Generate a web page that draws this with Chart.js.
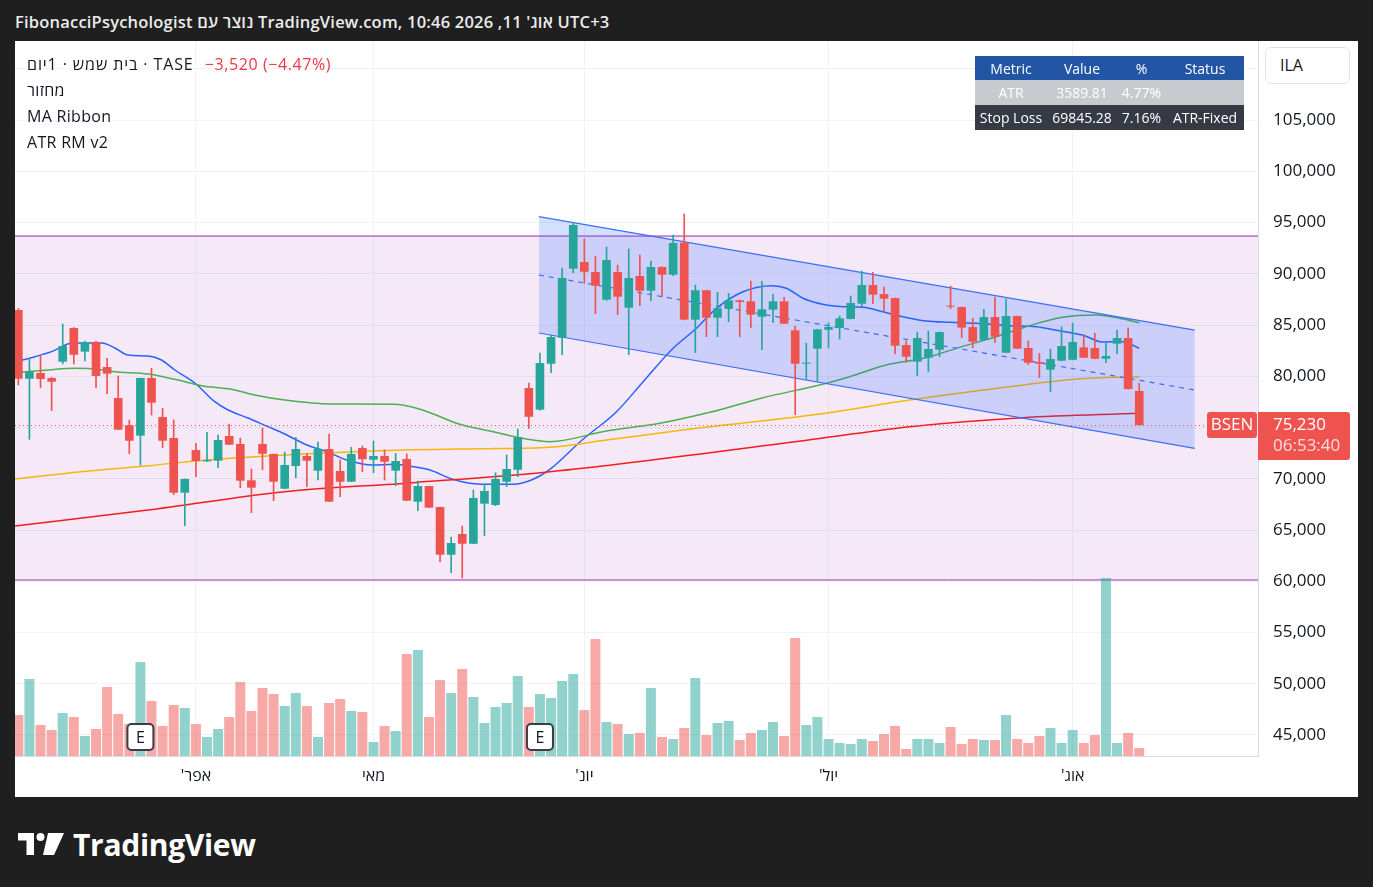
<!DOCTYPE html>
<html lang="he">
<head>
<meta charset="utf-8">
<title>BSEN · TASE</title>
<script src="https://cdn.jsdelivr.net/npm/chart.js@4.4.1/dist/chart.umd.min.js"></script>
<style>
  html, body { margin:0; padding:0; width:1373px; height:887px; overflow:hidden; background:#1f1f1f; font-family:'Open Sans', sans-serif; }
  .title { position:absolute; left:15px; top:10px; color:#ececec; font-size:16.5px; letter-spacing:0.2px; font-weight:600; white-space:nowrap; }
  .panel { position:absolute; left:15px; top:41px; width:1343px; height:756px; background:#fff; }
  #wrap { position:absolute; left:0; top:0; width:1343px; height:756px; }
  .legend { position:absolute; left:12px; top:10px; font-size:16px; line-height:26px; letter-spacing:0.3px; color:#131722; white-space:nowrap; }
  .legend .sym { letter-spacing:0.9px; }
  .legend .chg { color:#f23645; margin-left:11px; letter-spacing:0.6px; }
  table.stats { position:absolute; left:960px; top:15px; border-collapse:collapse; font-size:14px; color:#fff; }
  table.stats td { padding:0; height:25px; text-align:center; white-space:nowrap; }
  table.stats tr.h td { background:#2256a5; height:24px; }
  table.stats tr.a td { background:#c9cacf; }
  table.stats tr.s td { background:#363a45; }
  .cur { position:absolute; left:1250px; top:6px; width:85px; height:37px; box-sizing:border-box; border:1px solid #e0e3eb; border-radius:6px; font-size:16px; line-height:35px; padding-left:14px; color:#131722; background:#fff; }
  .brand { position:absolute; left:18px; top:824px; display:flex; align-items:center; color:#fff; }
  .brand span { font-size:30px; font-weight:700; margin-left:9px; letter-spacing:-0.3px; }
</style>
</head>
<body>
<div class="title">FibonacciPsychologist נוצר עם TradingView.com, אוג' 11, 2026 10:46 UTC+3</div>
<div class="panel">
  <div id="wrap"><canvas id="myChart"></canvas></div>
  <div class="legend">
    <div><span class="sym">בית שמש · 1יום · TASE</span><span class="chg">−3,520 (−4.47%)</span></div>
    <div>מחזור</div>
    <div>MA Ribbon</div>
    <div>ATR RM v2</div>
  </div>
  <table class="stats" id="stats"></table>
  <div class="cur">ILA</div>
</div>
<div class="brand">
  <svg width="46" height="24" viewBox="0 0 46 24">
    <path d="M0 0 H16 V22 H8.5 V7.5 H0 Z" fill="#fff"/>
    <circle cx="22.5" cy="4" r="4" fill="#fff"/>
    <path d="M30 0 H46 L36 22 H25 Z" fill="#fff"/>
  </svg>
  <span>TradingView</span>
</div>

<script>
// daily candles, oldest first (TASE: BSEN)
const openP  = [86460,79760,80320,79830,81420,84710,82400,83340,80900,77880,75220,74200,79830,76020,73980,68640,72800,71700,71760,74170,
                73390,69850,73390,72420,69030,71240,72220,70790,72900,70760,69710,73000,71860,72220,70790,71930,67760,69290,67240,62590,
                64610,63660,67570,67440,69710,70880,78850,76740,81220,83760,90490,91150,90170,87470,90170,86690,89780,88350,90660,89910,
                93030,85520,88390,85710,86590,87410,87310,85810,86490,87310,84480,81230,82690,84540,84710,85590,87080,88900,88020,87630,
                83050,81420,81810,82590,86880,86760,84800,83540,85780,82300,85880,82760,81390,80640,81520,81610,82820,82760,81710,83180,
                83730,78560];
const highP  = [86600,81750,81980,79900,85100,84750,83440,83400,81750,80030,75730,79830,80780,76870,75730,69980,73460,74530,74270,75340,
                73980,70950,74950,72420,72610,74040,72480,73590,74370,71830,73070,73200,73680,72810,72480,72420,69780,69290,67240,64320,
                65390,68900,69460,70590,72320,74850,79340,82270,84020,90560,95020,93390,91730,92610,90850,92420,91830,91240,90700,93780,
                95830,88900,88400,88190,88090,87450,89290,89260,88000,87700,84870,83240,84600,85200,85880,87830,90270,90140,88710,87630,
                83440,84320,84420,84320,88800,86760,85650,86530,87730,87540,85880,83440,82240,82660,84800,85200,84020,84220,83240,84510,
                84710,79310];
const lowP   = [79150,73850,78880,76640,81200,81200,81490,78880,78300,74780,72440,71340,76220,73030,68440,65420,70200,71660,71080,73320,
                69130,66690,70880,67860,69000,70100,69230,69880,67760,68250,69700,70690,70590,69880,69320,67860,66880,67180,61880,60830,
                60320,63660,64440,67370,69230,70200,74920,76700,80350,82100,90100,89070,86100,87400,86010,82100,86880,87370,87760,89810,
                85500,82300,83860,83860,85320,83860,84740,82590,85230,85130,76250,79700,79470,82760,83630,85590,86850,87080,86400,82170,
                81360,80050,80440,81910,86590,83760,82790,83540,83270,82300,82690,81130,79860,78490,81500,81600,81810,81700,81320,82200,
                78750,75230];
const closeP = [79760,80420,79730,79470,82950,82100,83310,80030,80250,74790,73710,79830,77420,73710,68640,69980,71730,71830,73780,73320,
                69810,69130,72440,69710,71340,72900,71760,72900,67760,69710,72420,71900,72220,71660,71730,67860,69290,67180,62590,63730,
                63660,68120,68810,69980,70950,74040,76050,81290,83830,89590,94760,90200,88830,91340,87760,89590,88350,90660,89910,93000,
                85520,88390,85710,86630,87410,87240,86010,86530,87310,85130,81220,81300,84580,84810,85650,87150,88900,87960,87570,82980,
                81910,83730,82660,84320,86790,84740,83370,85780,83860,85880,82690,81320,81220,81680,82950,83340,81810,81710,81980,83730,
                78750,75230];
// volume (thousands of shares)
const volume = [41,77,31,26,43,39,20,27,69,42,32,94,55,30,51,48,32,19,27,39,
                74,45,68,62,50,63,50,19,53,57,45,44,14,30,25,102,106,39,76,63,
                87,59,33,49,53,80,49,62,58,75,82,46,117,34,32,22,23,68,19,17,
                28,78,21,33,35,16,23,26,34,20,118,31,39,17,13,12,17,15,22,30,
                7,17,17,13,29,12,17,16,16,41,17,13,20,28,13,26,13,21,178,13,
                23,8];

// MA Ribbon, read as [bar index, price]
const maFast = [[-0.3,81390],[1.5,81910],[3.0,82400],[4.9,83240],[7.5,83240],[8.7,82760],[9.9,82070],[11.7,81980],[12.9,81590],
                [14.1,80610],[15.9,79340],[17.7,77520],[18.9,76710],[20.7,75930],[22.5,75080],[24.0,74370],[26.0,73290],[27.8,72640],
                [29.6,71830],[31.9,71340],[33.8,71410],[35.6,71180],[37.1,70850],[38.9,70040],[40.4,69620],[42.5,69460],[44.6,69460],
                [46.4,69950],[47.9,70920],[50.8,73780],[53.9,76540],[56.3,79470],[59.0,82730],[61.1,84680],[62.9,86630],[65.3,88250],
                [67.9,88830],[69.2,88580],[70.7,87610],[71.3,87370],[72.8,86950],[74.3,86790],[76.1,86730],[77.9,86300],[79.7,85810],
                [81.8,85390],[83.9,85260],[86.3,85170],[89.3,84930],[91.7,84830],[93.8,84440],[95.9,84020],[97.7,83340],[99.5,83370],[101,82730]];
const maMid  = [[-0.3,80350],[2.7,80610],[5.1,80780],[6.6,80740],[8.7,80440],[11.7,80220],[14.1,79700],[16.5,79080],[19.2,78730],
                [21.3,78170],[24.0,77680],[28.1,77290],[33.8,77260],[36.2,76780],[39.8,75310],[42.8,74590],[45.8,73880],[47.9,73620],
                [53.0,74660],[57.8,75410],[62.3,76480],[67.1,77910],[72.2,79150],[74.9,79960],[78.2,81100],[81.8,81810],[84.8,82820],
                [88.1,83860],[91.1,84930],[94.1,85750],[97.1,85980],[99.2,85650],[101,85220]];
const maSlow = [[-0.3,69980],[5.7,70690],[11.7,71270],[17.7,71900],[24.0,72320],[32.6,72740],[41.6,72930],[47.9,73070],[53.0,73780],
                [61.1,74920],[72.2,76320],[80.3,77680],[89.3,78980],[95.4,79730],[101,79960]];
const maLong = [[-0.3,65390],[11.7,66950],[24.0,68740],[35.6,69620],[47.9,70690],[72.2,73930],[80.3,75080],[90.5,75960],[101,76390]];

// drawings
const channelUpper = [[46.9,95570],[106.0,84510]];
const channelMid   = [[46.9,89880],[106.0,78660]];
const channelLower = [[46.9,84220],[106.0,72970]];
const rangeTop = 93680, rangeBottom = 60120;
const earnings = [11, 47];

const monthIdx = [16, 32, 51, 73, 95];
const monthLabels = ["אפר'", "מאי", "יונ'", "יול'", "אוג'"];
const priceTicks = [45000,50000,55000,60000,65000,70000,75000,80000,85000,90000,95000,100000,105000,110000];

const lastPrice = 75230, countdown = '06:53:40', ticker = 'BSEN';

const statRows = [
  ['Metric', 'Value', '%', 'Status'],
  ['ATR', '3589.81', '4.77%', ''],
  ['Stop Loss', '69845.28', '7.16%', 'ATR-Fixed']
];

// table top right
const tbl = document.getElementById('stats');
const colW = [72, 70, 49, 78];
const rowCls = ['h', 'a', 's'];
statRows.forEach((r, ri) => {
  const tr = document.createElement('tr');
  tr.className = rowCls[ri];
  r.forEach((c, ci) => {
    const td = document.createElement('td');
    td.style.width = colW[ci] + 'px';
    td.textContent = c;
    tr.appendChild(td);
  });
  tbl.appendChild(tr);
});

const GREEN = '#26a69a', RED = '#ef5350';
const isUp = i => closeP[i] >= openP[i];
const xy = arr => arr.map(p => ({ x: p[0], y: p[1] }));

const bodies = openP.map((o, i) => ({ x: i, y: [Math.min(o, closeP[i]), Math.max(o, closeP[i])] }));
const wicks  = openP.map((o, i) => ({ x: i, y: [lowP[i], highP[i]] }));
const vols   = volume.map((v, i) => ({ x: i, y: v }));
const candleColors = openP.map((o, i) => isUp(i) ? GREEN : RED);
const volColors = openP.map((o, i) => isUp(i) ? 'rgba(38,166,154,0.5)' : 'rgba(239,83,80,0.5)');

Chart.defaults.font.family = "'Open Sans', sans-serif";
Chart.defaults.color = '#131722';

const overlay = {
  id: 'overlay',
  afterDatasetsDraw(chart) {
    const { ctx, chartArea: a, scales: { x, y } } = chart;
    const py = Math.round(y.getPixelForValue(lastPrice)) + 0.5;
    ctx.save();
    ctx.strokeStyle = RED;
    ctx.lineWidth = 1;
    ctx.setLineDash([1, 3]);
    ctx.beginPath(); ctx.moveTo(a.left, py); ctx.lineTo(a.right, py); ctx.stroke();
    ctx.setLineDash([]);

    // earnings markers
    earnings.forEach(i => {
      const cx = x.getPixelForValue(i), cy = a.bottom - 19;
      ctx.fillStyle = '#fff';
      ctx.strokeStyle = '#3a3d45';
      ctx.lineWidth = 2;
      ctx.beginPath(); ctx.roundRect(cx - 13, cy - 13, 26, 26, 4); ctx.fill(); ctx.stroke();
      ctx.fillStyle = '#131722';
      ctx.font = "16px 'Open Sans', sans-serif";
      ctx.textAlign = 'center'; ctx.textBaseline = 'middle';
      ctx.fillText('E', cx, cy + 1);
    });
    ctx.restore();
  },
  afterDraw(chart) {
    const { ctx, chartArea: a, scales: { y } } = chart;
    const py = Math.round(y.getPixelForValue(lastPrice));
    ctx.save();
    ctx.fillStyle = RED;
    ctx.beginPath(); ctx.roundRect(a.right - 51, py - 13, 50, 26, 3); ctx.fill();
    ctx.beginPath(); ctx.roundRect(a.right, py - 13, 92, 48, [0, 3, 3, 0]); ctx.fill();
    ctx.fillStyle = '#fff';
    ctx.textBaseline = 'middle';
    ctx.font = "17px 'Open Sans', sans-serif";
    ctx.textAlign = 'center';
    ctx.fillText(ticker, a.right - 26, py);
    ctx.textAlign = 'left';
    ctx.fillText(lastPrice.toLocaleString('en-US'), a.right + 15, py);
    ctx.fillStyle = 'rgba(255,255,255,0.8)';
    ctx.fillText(countdown, a.right + 15, py + 21);
    ctx.restore();
  }
};

const lineDs = (data, color, order, extra) => Object.assign({
  type: 'line', data: xy(data), borderColor: color, borderWidth: 1.5,
  pointRadius: 0, cubicInterpolationMode: 'monotone', fill: false, order: order
}, extra || {});

const ctx = document.getElementById('myChart');
const myChart = new Chart(ctx, {
  type: 'bar',
  data: {
    datasets: [
      lineDs([[-0.3, rangeTop], [111.7, rangeTop]], '#9c27b0', 20, { borderWidth: 1, fill: '+1', backgroundColor: 'rgba(156,39,176,0.1)', cubicInterpolationMode: 'default' }),
      lineDs([[-0.3, rangeBottom], [111.7, rangeBottom]], '#9c27b0', 20, { borderWidth: 1, cubicInterpolationMode: 'default' }),
      lineDs(maLong, '#f21e1e', 10),
      lineDs(maSlow, '#f6b60a', 10),
      lineDs(maMid, '#4caf50', 10),
      lineDs(maFast, '#2962ff', 10),
      lineDs(channelUpper, '#3d6ff7', 5, { borderWidth: 1.2, fill: '+1', backgroundColor: 'rgba(41,98,255,0.2)', cubicInterpolationMode: 'default' }),
      lineDs(channelLower, '#3d6ff7', 5, { borderWidth: 1.2, cubicInterpolationMode: 'default' }),
      lineDs(channelMid, '#3d6ff7', 5, { borderWidth: 1.2, borderDash: [5, 5], cubicInterpolationMode: 'default' }),
      {
        type: 'bar', data: vols, yAxisID: 'yVol', backgroundColor: volColors,
        barPercentage: 0.9, categoryPercentage: 1, grouped: false, order: 15
      },
      {
        type: 'bar', data: wicks, backgroundColor: candleColors,
        barThickness: 1, grouped: false, order: 2
      },
      {
        type: 'bar', data: bodies, backgroundColor: candleColors,
        barPercentage: 0.78, categoryPercentage: 1, grouped: false, minBarLength: 1, order: 1
      }
    ]
  },
  options: {
    responsive: true,
    maintainAspectRatio: false,
    animation: false,
    layout: { padding: 0 },
    plugins: { legend: { display: false }, tooltip: { enabled: false } },
    scales: {
      x: {
        type: 'linear', min: -0.3, max: 111.7, offset: false,
        afterBuildTicks: s => { s.ticks = monthIdx.map(v => ({ value: v })); },
        afterFit: s => { s.height = 41; s.paddingLeft = 0; s.paddingRight = 0; },
        grid: { color: '#f0f3fa', drawTicks: false, offset: false },
        border: { color: '#d9dce3' },
        ticks: {
          autoSkip: false, maxRotation: 0, padding: 11,
          font: { size: 16 }, color: '#131722',
          // RLM keeps the geresh on the left like the original axis
          callback: v => (monthLabels[monthIdx.indexOf(v)] || '') + '\u200F'
        }
      },
      y: {
        position: 'right', min: 42950, max: 112710,
        afterBuildTicks: s => { s.ticks = priceTicks.map(v => ({ value: v })); },
        afterFit: s => { s.width = 100; s.paddingTop = 0; s.paddingBottom = 0; },
        grid: { color: '#f0f3fa', drawTicks: false },
        border: { color: '#d9dce3' },
        ticks: {
          padding: 15, font: { size: 17 }, color: '#131722',
          callback: v => v >= 110000 ? '' : v.toLocaleString('en-US')
        }
      },
      yVol: { display: false, min: 0, max: 715 }
    }
  },
  plugins: [overlay]
});
</script>
</body>
</html>
